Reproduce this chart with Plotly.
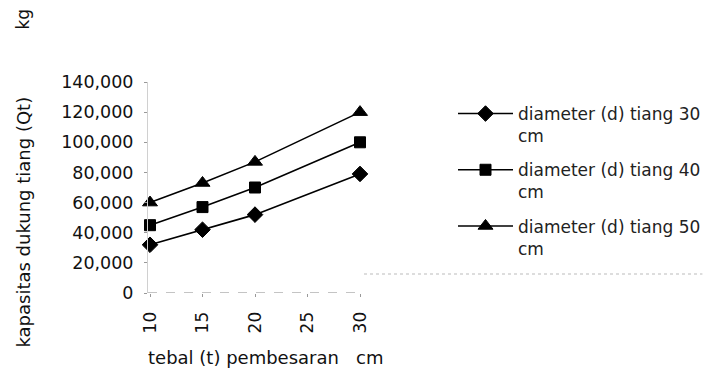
import plotly.graph_objects as go

# Pile bearing capacity vs. enlargement thickness
tebal = [10, 15, 20, 30]
x_ticks = [10, 15, 20, 25, 30]
qt_d30 = [32000, 42000, 52000, 79000]
qt_d40 = [45000, 57000, 70000, 100000]
qt_d50 = [60000, 73000, 87000, 120000]
y_ticks = [0, 20000, 40000, 60000, 80000, 100000, 120000, 140000]

series = [
    ("diameter (d) tiang 30<br>cm", qt_d30, "diamond", 12),
    ("diameter (d) tiang 40<br>cm", qt_d40, "square", 11),
    ("diameter (d) tiang 50<br>cm", qt_d50, "triangle-up", 13),
]

FONT = "DejaVu Sans"
W, H = 716, 370
L, R, T, B = 148, 351, 82, 77
PW, PH = W - L - R, H - T - B


def px_x(px):
    return (px - L) / PW


def px_y(py):
    return (H - B - py) / PH


fig = go.Figure()
for i, (name, vals, sym, size) in enumerate(series):
    fig.add_trace(go.Scatter(
        x=tebal, y=vals, name=name, mode="lines+markers",
        legendgroup=f"g{i}",
        line=dict(color="black", width=1.6),
        marker=dict(symbol=sym, size=size, color="black",
                    line=dict(color="black", width=1)),
        cliponaxis=False,
    ))

fig.update_layout(
    width=W, height=H,
    margin=dict(l=L, r=R, t=T, b=B),
    paper_bgcolor="white", plot_bgcolor="white",
    font=dict(family=FONT, color="black", size=16),
    showlegend=True,
    legend=dict(
        x=px_x(453), y=px_y(96),
        xanchor="left", yanchor="top", valign="top",
        font=dict(family=FONT, size=17, color="#222"),
        bgcolor="rgba(0,0,0,0)", itemwidth=55, tracegroupgap=9,
    ),
    xaxis=dict(
        range=[9.81, 30.38], tickvals=x_ticks,
        ticktext=[str(v) for v in x_ticks], tickangle=-90,
        showgrid=False, zeroline=False, showline=False,
        ticks="outside", ticklen=3, tickcolor="#999",
        tickfont=dict(family=FONT, size=17, color="#111"),
        ticklabelstandoff=8,
    ),
    yaxis=dict(
        range=[0, 140000], tickvals=y_ticks,
        ticktext=[f"{v:,}" for v in y_ticks],
        showgrid=False, zeroline=False,
        showline=True, linecolor="#d0d0d0", linewidth=1,
        ticks="outside", ticklen=3, tickcolor="#999",
        tickfont=dict(family=FONT, size=17.5, color="#111"),
        ticklabelstandoff=7,
    ),
)

# Dashed category axis along the baseline
fig.add_shape(
    type="line", xref="paper", yref="y",
    x0=0, x1=1, y0=0, y1=0,
    line=dict(color="#888", width=1, dash="dash"),
)

# Axis titles and unit labels
fig.add_annotation(
    text="kapasitas dukung tiang (Qt)", xref="paper", yref="paper",
    x=px_x(22), y=px_y(222),
    textangle=-90, showarrow=False, xanchor="center", yanchor="middle",
    font=dict(family=FONT, size=18, color="#111"),
)
fig.add_annotation(
    text="kg", xref="paper", yref="paper",
    x=px_x(22), y=px_y(19),
    textangle=-90, showarrow=False, xanchor="center", yanchor="middle",
    font=dict(family=FONT, size=17, color="#111"),
)
fig.add_annotation(
    text="tebal (t) pembesaran&nbsp;&nbsp;&nbsp;cm", xref="paper", yref="paper",
    x=px_x(146), y=px_y(357),
    showarrow=False, xanchor="left", yanchor="middle",
    font=dict(family=FONT, size=18, color="#111"),
)

# Faint lower edge of the legend frame
fig.add_shape(
    type="line", xref="paper", yref="paper",
    x0=px_x(365), x1=px_x(705), y0=px_y(274), y1=px_y(274),
    line=dict(color="#bbb", width=1, dash="dot"),
)

fig.write_html("out.html")
